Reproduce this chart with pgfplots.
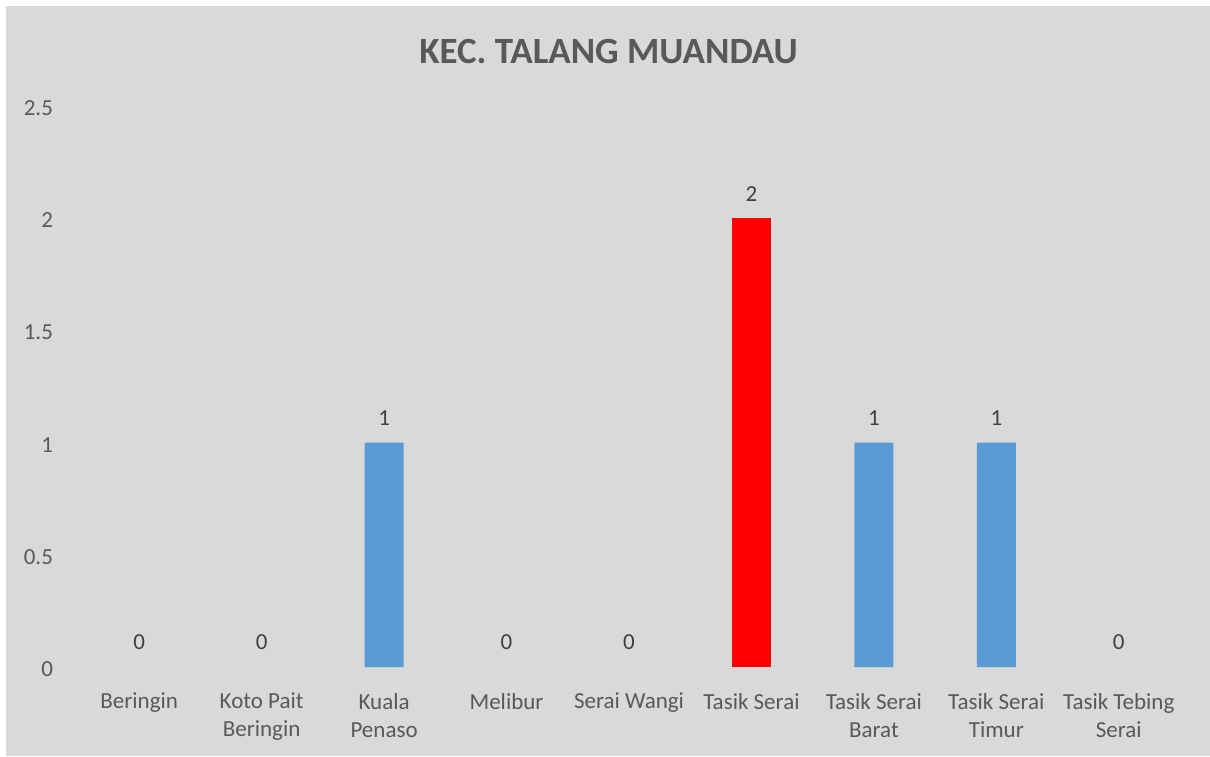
\documentclass[border=0pt]{standalone}
\usepackage{fontspec}
\setmainfont{Carlito}
\usepackage{pgfplots}
\pgfplotsset{compat=1.18}
\definecolor{bg}{HTML}{D9D9D9}
\definecolor{barblue}{HTML}{5B9BD5}
\definecolor{tick}{HTML}{595959}
\definecolor{lab}{HTML}{404040}
\begin{document}
\begin{tikzpicture}[x=1pt,y=1pt]
\fill[bg] (0,0) rectangle (605,-378);
\fill[white] (0,0) rectangle (605,-3);
\fill[white] (0,0) rectangle (3,-378);
\node[font=\fontsize{18.5}{22}\selectfont\bfseries, text=tick, anchor=base] at (304.3,-31.5) {KEC. TALANG MUANDAU};
\begin{axis}[
  at={(39pt,-333.5pt)}, anchor=south west,
  scale only axis, width=551pt, height=280.5pt,
  xmin=-0.5, xmax=8.5, ymin=0, ymax=2.5,
  axis line style={draw=none},
  major tick length=0pt,
  /pgf/number format/assume math mode=true,
  xtick={0,...,8},
  xticklabels={Beringin,{Koto Pait\\Beringin},{Kuala\\Penaso},Melibur,Serai Wangi,Tasik Serai,{Tasik Serai\\Barat},{Tasik Serai\\Timur},{Tasik Tebing\\Serai}},
  xticklabel style={align=center, font=\fontsize{11.5}{14}\selectfont, text=tick, anchor=north, yshift=-9.5pt},
  ytick={0,0.5,1,1.5,2,2.5},
  yticklabels={0,0.5,1,1.5,2,2.5},
  yticklabel style={font=\fontsize{11.5}{14}\selectfont, text=tick, anchor=east, xshift=-9pt, yshift=-1pt},
  ybar, bar width=19.5pt, bar shift=0pt,
  nodes near coords,
  every node near coord/.append style={font=\fontsize{11.5}{14}\selectfont, text=lab, anchor=south, yshift=5pt},
  clip=false,
]
\addplot[fill=none, draw=none] coordinates {(0,0) (1,0) (3,0) (4,0) (8,0)};
\addplot[fill=barblue, draw=none] coordinates {(2,1) (6,1) (7,1)};
\addplot[fill=red, draw=none] coordinates {(5,2)};
\end{axis}
\end{tikzpicture}
\end{document}
